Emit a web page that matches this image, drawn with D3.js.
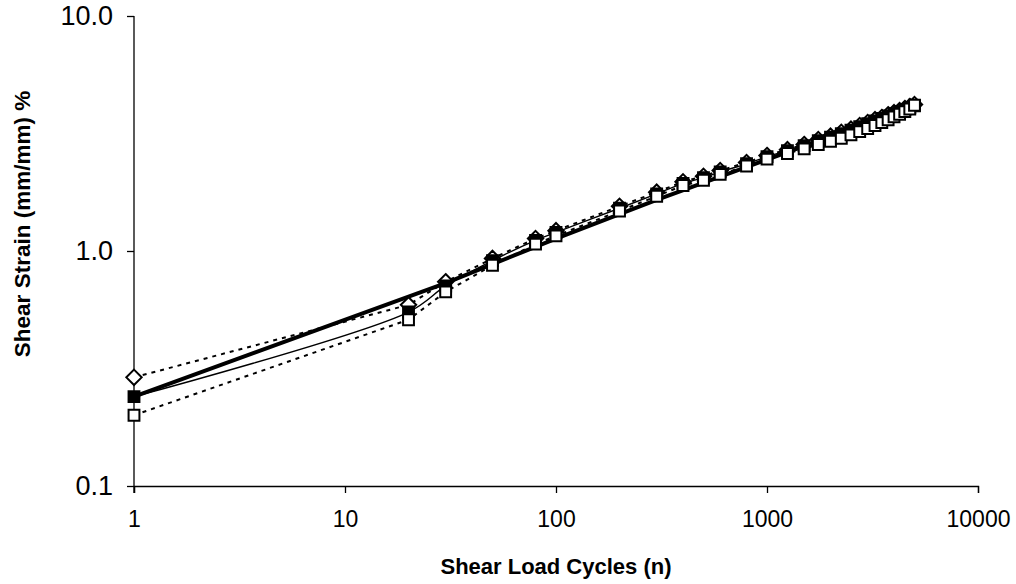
<!DOCTYPE html>
<html>
<head>
<meta charset="utf-8">
<script src="https://cdn.jsdelivr.net/npm/d3@7"></script>
<style>
  body { margin: 0; background: #fff; }
  svg { font-family: "Liberation Sans", Arial, sans-serif; }
</style>
</head>
<body>
<div id="chart"></div>
<script>
var W = 1016, H = 584;
var margin = {top: 16, right: 38, bottom: 98, left: 134};
var width = W - margin.left - margin.right;
var height = H - margin.top - margin.bottom;

// load cycles at which strain was recorded
var cycles = [1, 20, 30, 50, 80, 100, 200, 300, 400, 500, 600, 800, 1000, 1250, 1500, 1750,
  2000, 2250, 2500, 2750, 3000, 3250, 3500, 3750, 4000, 4250, 4500, 4750, 5000];

var diamondStrain = [0.29, 0.59, 0.74, 0.93, 1.13, 1.22, 1.55, 1.78, 1.97, 2.08, 2.2, 2.38, 2.55, 2.7, 2.84, 2.98,
  3.08, 3.2, 3.3, 3.42, 3.52, 3.62, 3.7, 3.8, 3.88, 3.96, 4.04, 4.12, 4.2];
var filledStrain = [0.24, 0.55, 0.71, 0.91, 1.11, 1.2, 1.52, 1.75, 1.94, 2.05, 2.17, 2.35, 2.52, 2.67, 2.81, 2.95,
  3.05, 3.16, 3.27, 3.38, 3.48, 3.58, 3.67, 3.76, 3.84, 3.92, 4.0, 4.08, 4.15];
var openStrain = [0.20, 0.51, 0.67, 0.87, 1.07, 1.16, 1.48, 1.71, 1.9, 2.0, 2.12, 2.3, 2.46, 2.6, 2.72, 2.84,
  2.93, 3.02, 3.12, 3.22, 3.32, 3.42, 3.52, 3.62, 3.72, 3.82, 3.92, 4.02, 4.17];

// thick line (average trend)
var trendCycles = [1, 30, 100, 300, 1000, 5000];
var trendStrain = [0.24, 0.73, 1.13, 1.65, 2.45, 4.15];

var xTicks = [1, 10, 100, 1000, 10000];
var yTicks = [0.1, 1, 10];

var x = d3.scaleLog().domain([1, 10000]).range([0, width]);
var y = d3.scaleLog().domain([0.1, 10]).range([height, 0]);

var svg = d3.select("#chart").append("svg")
    .attr("width", W)
    .attr("height", H);

var g = svg.append("g")
    .attr("transform", "translate(" + margin.left + "," + margin.top + ")");

function pts(xs, ys) {
  return xs.map(function(d, i) { return [d, ys[i]]; });
}

var line = d3.line()
    .x(function(d) { return x(d[0]); })
    .y(function(d) { return y(d[1]); });

var smoothLine = d3.line()
    .x(function(d) { return x(d[0]); })
    .y(function(d) { return y(d[1]); })
    .curve(d3.curveCatmullRom);

// axes
var xAxis = g.append("g")
    .attr("transform", "translate(0," + height + ")")
    .call(d3.axisBottom(x).tickValues(xTicks).tickFormat(d3.format("d")).tickSize(7).tickPadding(18));

var yAxis = g.append("g")
    .call(d3.axisLeft(y).tickValues(yTicks).tickFormat(d3.format(".1f")).tickSize(7).tickPadding(14));

[xAxis, yAxis].forEach(function(a) {
  a.select(".domain").attr("stroke", "#000").attr("stroke-width", 1.3);
  a.selectAll(".tick line").attr("stroke", "#000").attr("stroke-width", 1.3);
  a.selectAll(".tick text").attr("fill", "#000");
});
xAxis.selectAll(".tick text").style("font-size", "23px");
yAxis.selectAll(".tick text").style("font-size", "27px");
yAxis.select(".domain").attr("d", "M0,0V" + (height + 7));

// lines
g.append("path")
    .attr("d", line(pts(cycles, diamondStrain)))
    .attr("fill", "none").attr("stroke", "#000")
    .attr("stroke-width", 2).attr("stroke-dasharray", "4,5");

g.append("path")
    .attr("d", line(pts(cycles, openStrain)))
    .attr("fill", "none").attr("stroke", "#000")
    .attr("stroke-width", 2).attr("stroke-dasharray", "4,5");

g.append("path")
    .attr("d", smoothLine(pts(cycles, filledStrain)))
    .attr("fill", "none").attr("stroke", "#000")
    .attr("stroke-width", 1.4);

g.append("path")
    .attr("d", line(pts(trendCycles, trendStrain)))
    .attr("fill", "none").attr("stroke", "#000")
    .attr("stroke-width", 4);

// markers
var diamond = d3.symbol().type(d3.symbolDiamond2).size(150);
var square = d3.symbol().type(d3.symbolSquare2).size(150);

g.selectAll(".dia")
    .data(pts(cycles, diamondStrain))
    .enter().append("path")
    .attr("class", "dia")
    .attr("transform", function(d) { return "translate(" + x(d[0]) + "," + y(d[1]) + ")"; })
    .attr("d", diamond)
    .attr("fill", "#fff").attr("stroke", "#000").attr("stroke-width", 2);

g.selectAll(".fsq")
    .data(pts(cycles, filledStrain))
    .enter().append("path")
    .attr("class", "fsq")
    .attr("transform", function(d) { return "translate(" + x(d[0]) + "," + y(d[1]) + ")"; })
    .attr("d", square)
    .attr("fill", "#000").attr("stroke", "#000").attr("stroke-width", 2);

g.selectAll(".osq")
    .data(pts(cycles, openStrain))
    .enter().append("path")
    .attr("class", "osq")
    .attr("transform", function(d) { return "translate(" + x(d[0]) + "," + y(d[1]) + ")"; })
    .attr("d", square)
    .attr("fill", "#fff").attr("stroke", "#000").attr("stroke-width", 2);

// titles
svg.append("text")
    .attr("x", margin.left + width / 2)
    .attr("y", 574)
    .attr("text-anchor", "middle")
    .style("font-size", "22px").style("font-weight", "bold")
    .text("Shear Load Cycles (n)");

svg.append("text")
    .attr("transform", "translate(30," + 224 + ") rotate(-90)")
    .attr("text-anchor", "middle")
    .style("font-size", "22.5px").style("font-weight", "bold")
    .text("Shear Strain (mm/mm) %");
</script>
</body>
</html>
